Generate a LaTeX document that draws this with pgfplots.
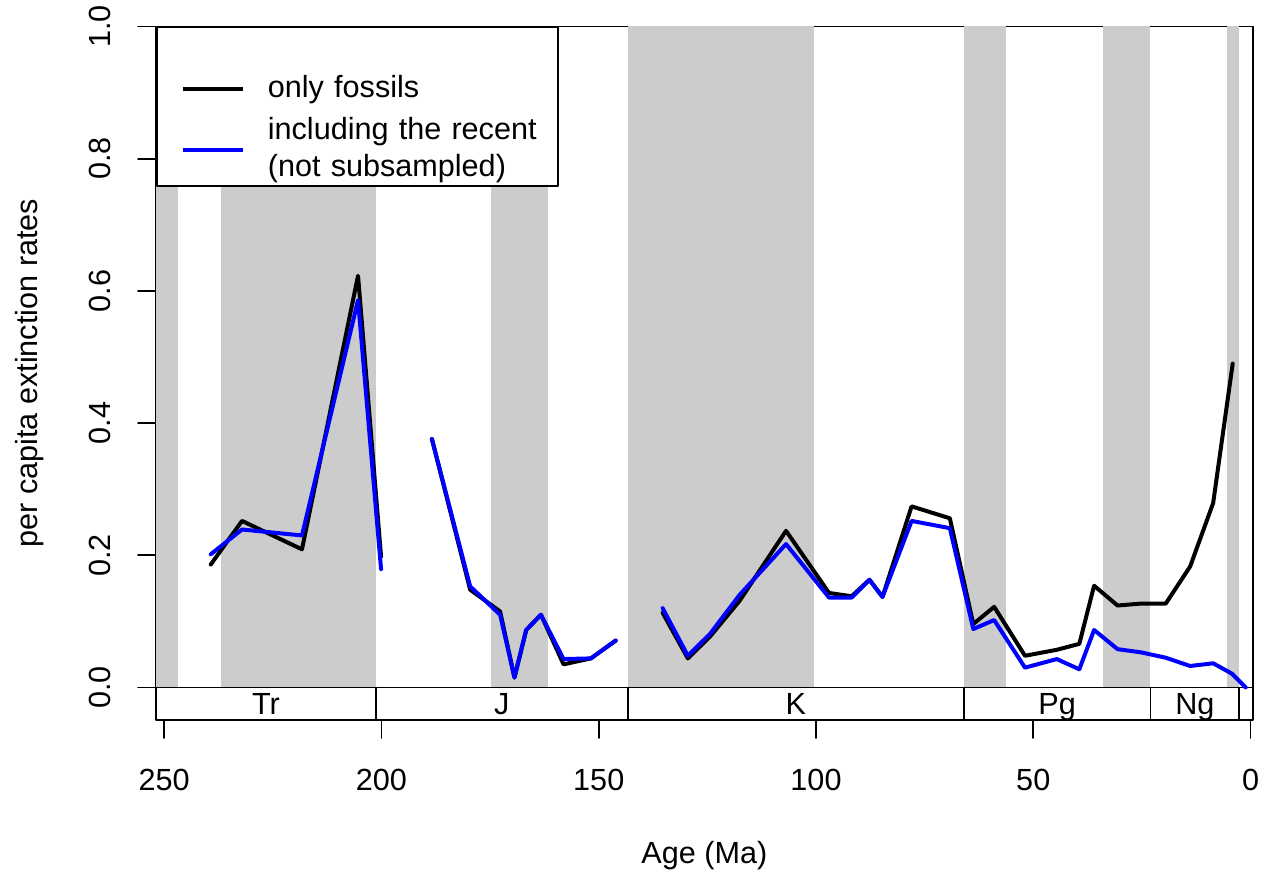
\documentclass[border=0pt]{standalone}
\usepackage{pgfplots}
\pgfplotsset{compat=1.18}
\usepackage{fontspec}
\setmainfont{Liberation Sans}
\definecolor{band}{HTML}{CCCCCC}
\definecolor{rblue}{RGB}{0,0,255}
\begin{document}
\fontsize{15.3pt}{18.4pt}\selectfont
\begin{tikzpicture}[font=\fontsize{15.3pt}{18.4pt}\selectfont]
\path[use as bounding box] (-78pt,-76.5pt) rectangle (556.5pt,360pt);
\begin{axis}[
  at={(0pt,0pt)}, anchor=south west,
  scale only axis, width=548.35pt, height=346.75pt,
  x dir=reverse, xmin=-0.5, xmax=251.9, ymin=-0.0492, ymax=1,
  axis line style={line width=0.9pt},
  every tick/.style={black, line width=0.9pt},
  tick align=outside, major tick length=9pt,
  xtick={0,50,100,150,200,250}, xticklabels={0,50,100,150,200,250},
  ytick={0,0.2,0.4,0.6,0.8,1.0}, yticklabels={0.0,0.2,0.4,0.6,0.8,1.0},
  xtick pos=bottom, ytick pos=left,
  /pgf/number format/assume math mode=true,
  xticklabel style={anchor=north, inner xsep=0pt, inner ysep=15.5pt},
  yticklabel style={rotate=90, anchor=south, inner xsep=0pt, inner ysep=13.5pt},
  xlabel={Age (Ma)},
  xlabel style={at={(axis description cs:0.5,-0.1961)}, anchor=center, inner sep=0pt},
  ylabel={per capita extinction rates},
  ylabel style={at={(axis description cs:-0.1149,0.5)}, anchor=center, inner sep=0pt},
  legend style={at={(rel axis cs:0,1)}, anchor=north west, draw=black, line width=0.9pt, fill=white,
    inner sep=0pt, row sep=0pt, column sep=0pt,
    nodes={inner sep=0pt, text depth={}, anchor=west}, cells={anchor=west}},
  legend image code/.code={\path[draw=none, fill=none] (0pt,0pt) -- (55.5pt,0pt); \draw[#1] (13pt,0pt) -- (43pt,0pt);},
  line join=round, line cap=round,
]
\addlegendimage{empty legend}
\addlegendentry[text width=145pt, align=left, minimum height=19pt]{}

% geological epoch bands
\addplot[fill=band, draw=none, forget plot] coordinates {(251.9,0) (251.9,1) (246.9,1) (246.9,0)} -- cycle;
\addplot[fill=band, draw=none, forget plot] coordinates {(236.9,0) (236.9,1) (201.3,1) (201.3,0)} -- cycle;
\addplot[fill=band, draw=none, forget plot] coordinates {(174.8,0) (174.8,1) (161.7,1) (161.7,0)} -- cycle;
\addplot[fill=band, draw=none, forget plot] coordinates {(143.3,0) (143.3,1) (100.5,1) (100.5,0)} -- cycle;
\addplot[fill=band, draw=none, forget plot] coordinates {(66.0,0) (66.0,1) (56.2,1) (56.2,0)} -- cycle;
\addplot[fill=band, draw=none, forget plot] coordinates {(34.0,0) (34.0,1) (23.1,1) (23.1,0)} -- cycle;
\addplot[fill=band, draw=none, forget plot] coordinates {(5.4,0) (5.4,1) (2.7,1) (2.7,0)} -- cycle;

% period bar
\addplot[black, line width=0.9pt, forget plot] coordinates {(251.9,0) (-0.5,0)};
\addplot[black, line width=0.9pt, forget plot] coordinates {(201.3,-0.06) (201.3,0)};
\addplot[black, line width=0.9pt, forget plot] coordinates {(143.3,-0.06) (143.3,0)};
\addplot[black, line width=0.9pt, forget plot] coordinates {(66.0,-0.06) (66.0,0)};
\addplot[black, line width=0.9pt, forget plot] coordinates {(23.03,-0.06) (23.03,0)};
\addplot[black, line width=0.9pt, forget plot] coordinates {(2.58,-0.06) (2.58,0)};
\node[anchor=base, inner sep=0pt] at (axis cs:226.6,-0.0416) {Tr};
\node[anchor=base, inner sep=0pt] at (axis cs:172.3,-0.0416) {J};
\node[anchor=base, inner sep=0pt] at (axis cs:104.65,-0.0416) {K};
\node[anchor=base, inner sep=0pt] at (axis cs:44.5,-0.0416) {Pg};
\node[anchor=base, inner sep=0pt] at (axis cs:12.8,-0.0416) {Ng};

% only fossils
\addplot[black, line width=2pt] coordinates {
(239.3,0.186) (232.1,0.252) (218.3,0.209) (205.4,0.623) (200.1,0.198)};
\addlegendentry[text width=145pt, align=left, minimum height=24pt]{only fossils}
\addplot[black, line width=2pt, forget plot] coordinates {
(188.4,0.376) (179.6,0.148) (172.7,0.115) (169.4,0.015) (166.7,0.087) (163.3,0.110) (158.1,0.035) (151.8,0.044) (146.1,0.071)};
\addplot[black, line width=2pt, forget plot] coordinates {
(135.3,0.113) (129.5,0.044) (124.4,0.077) (117.6,0.131) (106.9,0.237) (97.0,0.143) (91.8,0.138) (87.7,0.163) (84.7,0.137) (78.0,0.274) (69.2,0.256) (63.8,0.096) (59.0,0.122) (51.9,0.048) (44.6,0.057) (39.4,0.066) (36.0,0.154) (30.6,0.124) (25.1,0.127) (19.5,0.127) (13.9,0.183) (8.6,0.279) (4.1,0.490)};

% including the recent
\addplot[rblue, line width=2pt] coordinates {
(239.3,0.2015) (232.1,0.239) (218.3,0.230) (205.4,0.586) (200.1,0.179)};
\addlegendentry[text width=145pt, align=left, minimum height=36.5pt]{including the recent\\(not subsampled)}
\addplot[rblue, line width=2pt, forget plot] coordinates {
(188.4,0.376) (179.6,0.153) (172.7,0.110) (169.4,0.015) (166.7,0.087) (163.3,0.110) (158.1,0.043) (151.8,0.044) (146.1,0.071)};
\addplot[rblue, line width=2pt, forget plot] coordinates {
(135.3,0.120) (129.5,0.048) (124.4,0.081) (117.6,0.140) (106.9,0.217) (97.0,0.136) (91.8,0.136) (87.7,0.163) (84.7,0.137) (78.0,0.252) (69.2,0.241) (63.8,0.0885) (59.0,0.102) (51.9,0.030) (44.6,0.043) (39.4,0.0275) (36.0,0.087) (30.6,0.058) (25.1,0.053) (19.5,0.045) (13.9,0.0325) (8.6,0.0366) (4.3,0.021) (1.1,0.0)};
\end{axis}
\end{tikzpicture}
\end{document}
